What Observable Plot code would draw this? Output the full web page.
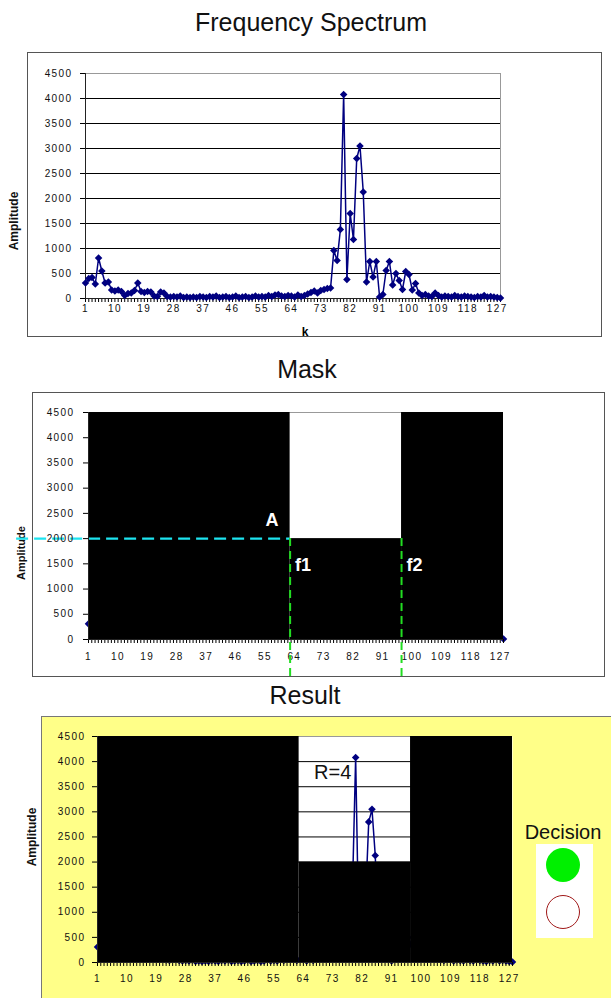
<!DOCTYPE html>
<html><head><meta charset="utf-8">
<script src="https://cdn.jsdelivr.net/npm/d3@7"></script>
<script src="https://cdn.jsdelivr.net/npm/@observablehq/plot@0.6"></script>
<style>
body{margin:0;background:#fff;font-family:"Liberation Sans",Arial,sans-serif;}
#page{position:relative;width:611px;height:998px;overflow:hidden;background:#fff;}
.title{position:absolute;font-size:25px;line-height:25px;white-space:nowrap;transform:translateX(-50%);color:#111;}
.ylab{position:absolute;font-weight:bold;font-size:12px;line-height:12px;white-space:nowrap;transform:translate(-50%,-50%) rotate(-90deg);color:#111;}
.chart{position:absolute;left:0;}
.box{position:absolute;box-sizing:border-box;}
</style></head><body><div id="page">
<div class="box" style="left:27px;top:52px;width:575px;height:285px;border:1.5px solid #555;"></div>
<div class="box" style="left:32px;top:392px;width:573px;height:285px;border:1.5px solid #555;"></div>
<div class="box" style="left:41px;top:716px;width:590px;height:300px;border:1.5px solid #777;background:#ffff88;"></div>
<div class="title" style="left:311px;top:10px;">Frequency Spectrum</div>
<div class="title" style="left:307px;top:357px;">Mask</div>
<div class="title" style="left:305px;top:683px;">Result</div>
<div class="ylab" style="left:14px;top:221px;">Amplitude</div>
<div class="ylab" style="left:21px;top:553px;font-size:11px;">Amplitude</div>
<div class="ylab" style="left:32px;top:837px;">Amplitude</div>
<div style="position:absolute;left:305px;top:326px;font-weight:bold;font-size:12px;line-height:12px;transform:translateX(-50%);">k</div>
<div id="c1" class="chart" style="top:52px"></div>
<div id="c2" class="chart" style="top:392px"></div>
<div id="c3" class="chart" style="top:716px"></div>
<div style="position:absolute;left:563px;top:822px;font-size:20px;line-height:20px;transform:translateX(-50%);white-space:nowrap;color:#111;">Decision</div>
<div class="box" style="left:536px;top:844px;width:57px;height:94px;background:#fff;"></div>
<div class="box" style="left:546px;top:848px;width:34px;height:34px;border-radius:50%;background:#00f000;"></div>
<div class="box" style="left:546px;top:895px;width:34px;height:34px;border-radius:50%;background:#fff;border:1.5px solid #a01818;"></div>
</div>
<script>
// ---- data ----
const kValues = d3.range(1, 129); // frequency bin index k
const amplitude = [
 310, 400, 420, 290, 810, 550, 310, 330, 170, 150,
 170, 140, 60, 100, 110, 160, 310, 140, 120, 140,
 130, 50, 40, 130, 110, 40, 30, 40, 30, 50,
 20, 30, 20, 30, 20, 40, 30, 20, 40, 30,
 50, 20, 30, 40, 20, 30, 50, 20, 30, 40,
 20, 30, 50, 30, 40, 30, 60, 40, 70, 80,
 50, 40, 60, 50, 30, 70, 40, 60, 90, 120,
 150, 110, 160, 180, 200, 210, 960, 760, 1380, 4080,
 380, 1700, 1180, 2800, 3050, 2130, 330, 740, 430, 740,
 30, 80, 560, 740, 270, 500, 360, 180, 540, 480,
 170, 300, 110, 60, 80, 50, 40, 110, 60, 30,
 50, 40, 30, 60, 40, 30, 50, 40, 30, 20,
 40, 30, 60, 30, 40, 30, 20, 10
];
const xTickLabels = [1, 10, 19, 28, 37, 46, 55, 64, 73, 82, 91, 100, 109, 118, 127];
const yTicks = [0, 500, 1000, 1500, 2000, 2500, 3000, 3500, 4000, 4500];
const gridLines = [500, 1000, 1500, 2000, 2500, 3000, 3500, 4000];
const kMin = 1, kMax = 128, yMax = 4500;
const A = 2000;          // threshold level
const f1 = 62.7, f2 = 96.8; // mask window
const cyanStartK = -21;  // dashed A guide starts left of the axis
const greenEndY = -770;  // f1/f2 guides run below the axis

const spectrum = kValues.map((k, i) => ({k, amp: amplitude[i]}));
const maskStart = [kMin, f1, f2];
const maskEnd = [f1, f2, kMax];
const maskLevel = [yMax, A, yMax];
const mask = maskStart.map((s, i) => ({x1: s, x2: maskEnd[i], level: maskLevel[i]}));
const R = spectrum.filter(d => d.k >= f1 && d.k <= f2 && d.amp > A).length;

const navy = "#000080";
const style = {background: "transparent", fontFamily: "'Liberation Sans', Arial, sans-serif", fontSize: "10px", overflow: "visible", color: "#000"};

function axes(padX, padY) {
  return [
    Plot.axisY(yTicks, {tickSize: 5, tickPadding: padY - 5, tickFormat: d => String(d), fontSize: 10, label: null}),
    Plot.axisX(kValues, {tickSize: 4, tickFormat: () => "", label: null}),
    Plot.axisX(xTickLabels, {tickSize: 0, tickPadding: padX, tickFormat: d => String(d), fontSize: 10, label: null}),
    Plot.ruleX([kMin], {stroke: "#222"}),
    Plot.ruleY([0], {stroke: "#222"})
  ];
}
function spacing(svg) {
  d3.select(svg).selectAll("g[aria-label='y-axis tick label'] text, g[aria-label='x-axis tick label'] text")
    .attr("letter-spacing", "1.4px").attr("fill", "#111");
  return svg;
}

// ---- chart 1: spectrum ----
const c1 = Plot.plot({
  width: 611, height: 285,
  marginLeft: 85, marginRight: 111, marginTop: 21, marginBottom: 39,
  x: {domain: [kMin, kMax], label: null}, y: {domain: [0, yMax], label: null},
  style,
  marks: [
    Plot.ruleY(gridLines, {stroke: "#000"}),
    Plot.ruleY([yMax], {stroke: "#999"}),
    Plot.ruleX([kMax], {stroke: "#999"}),
    ...axes(6, 13),
    Plot.line(spectrum, {x: "k", y: "amp", stroke: navy, strokeWidth: 1.5}),
    Plot.dot(spectrum, {x: "k", y: "amp", symbol: "diamond2", r: 3.4, fill: navy})
  ]
});
document.getElementById("c1").appendChild(spacing(c1));

// ---- chart 2: mask ----
const c2 = Plot.plot({
  width: 611, height: 288,
  marginLeft: 88, marginRight: 108, marginTop: 20, marginBottom: 41,
  x: {domain: [kMin, kMax], label: null}, y: {domain: [0, yMax], label: null},
  style,
  marks: [
    Plot.frame({fill: "white", stroke: null}),
    Plot.ruleY([yMax], {stroke: "#999"}),
    Plot.dot(spectrum.filter(d => d.k === kMin || d.k === kMax), {x: "k", y: "amp", symbol: "diamond2", r: 3.4, fill: navy}),
    Plot.rect(mask, {x1: "x1", x2: "x2", y1: 0, y2: "level", fill: "black"}),
    Plot.ruleY([A], {x1: cyanStartK, x2: f1, stroke: "#1de4f0", strokeWidth: 2.2, strokeDasharray: "12,6"}),
    ...axes(13, 14),
    Plot.ruleX([f1, f2], {y1: A, y2: greenEndY, stroke: "#22dd22", strokeWidth: 2, strokeDasharray: "8,5"}),
    Plot.text(["A"], {x: f1, y: A, dx: -18, dy: -18, fill: "white", fontWeight: "bold", fontSize: 18}),
    Plot.text(["f1", "f2"], {x: [f1, f2], y: [A, A], text: d => d, dx: 5, dy: 27, textAnchor: "start", fill: "white", fontWeight: "bold", fontSize: 18})
  ]
});
document.getElementById("c2").appendChild(spacing(c2));

// ---- chart 3: result ----
const c3 = Plot.plot({
  width: 611, height: 282,
  marginLeft: 97, marginRight: 99, marginTop: 20, marginBottom: 36,
  x: {domain: [kMin, kMax], label: null}, y: {domain: [0, yMax], label: null},
  style,
  marks: [
    Plot.frame({fill: "white", stroke: null}),
    Plot.ruleY(gridLines, {stroke: "#000"}),
    Plot.ruleY([yMax], {stroke: "#999"}),
    Plot.line(spectrum, {x: "k", y: "amp", stroke: navy, strokeWidth: 1.5}),
    Plot.dot(spectrum, {x: "k", y: "amp", symbol: "diamond2", r: 3.4, fill: navy}),
    Plot.rect(mask, {x1: "x1", x2: "x2", y1: 0, y2: "level", fill: "black"}),
    ...axes(12, 12),
    Plot.text([`R=${R}`], {x: f1, y: 3780, dx: 15, textAnchor: "start", fontSize: 20, fill: "#111"})
  ]
});
document.getElementById("c3").appendChild(spacing(c3));
</script>
</body></html>
